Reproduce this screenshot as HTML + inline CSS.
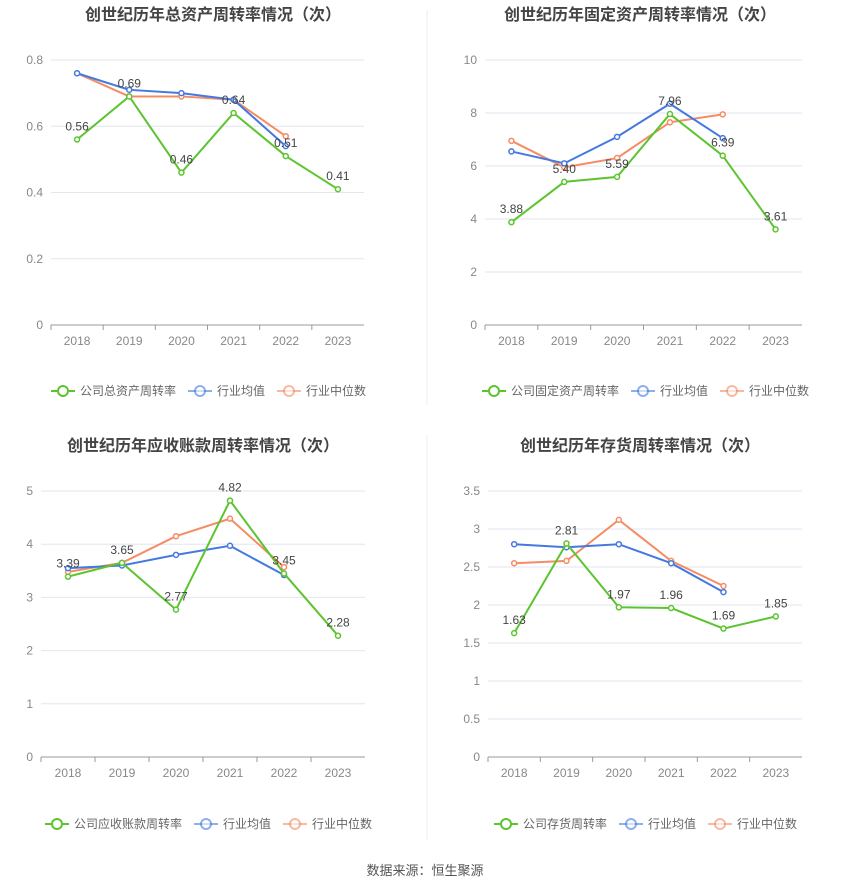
<!DOCTYPE html>
<html><head><meta charset="utf-8">
<style>
body{margin:0;background:#fff;width:850px;height:891px;overflow:hidden;font-family:"Liberation Sans","Noto Sans CJK SC",sans-serif;}
svg text{font-family:"Liberation Sans","Noto Sans CJK SC",sans-serif;}
</style></head>
<body>
<svg id="root" width="850" height="891">
<line x1="427" y1="10" x2="427" y2="405" stroke="#eee"/>
<line x1="427" y1="435" x2="427" y2="840" stroke="#eee"/>
<text x="425" y="875" text-anchor="middle" font-size="13" fill="#555">数据来源：恒生聚源</text>
</svg>
<script>
const years = ["2018","2019","2020","2021","2022","2023"];
const c1Company = [0.56,0.69,0.46,0.64,0.51,0.41];
const c1Avg = [0.76,0.71,0.70,0.68,0.54];
const c1Median = [0.76,0.69,0.69,0.68,0.57];
const c1Ticks = [0,0.2,0.4,0.6,0.8];
const c2Company = [3.88,5.40,5.59,7.96,6.39,3.61];
const c2Avg = [6.55,6.10,7.10,8.35,7.05];
const c2Median = [6.95,5.95,6.30,7.65,7.95];
const c2Ticks = [0,2,4,6,8,10];
const c3Company = [3.39,3.65,2.77,4.82,3.45,2.28];
const c3Avg = [3.55,3.60,3.80,3.97,3.42];
const c3Median = [3.48,3.65,4.15,4.48,3.57];
const c3Ticks = [0,1,2,3,4,5];
const c4Company = [1.63,2.81,1.97,1.96,1.69,1.85];
const c4Avg = [2.80,2.76,2.80,2.55,2.17];
const c4Median = [2.55,2.58,3.12,2.58,2.25];
const c4Ticks = [0,0.5,1,1.5,2,2.5,3,3.5];

const NS="http://www.w3.org/2000/svg";
const root=document.getElementById('root');
const G="#5cc42e",B="#4479e0",O="#f58c63";
function mk(tag,attrs,parent){const e=document.createElementNS(NS,tag);for(const k in attrs)e.setAttribute(k,attrs[k]);(parent||root).appendChild(e);return e;}

function chart(cfg){
  const {title,tx,ty,x0,x1,y0,y1,ticks,company,avg,median,legendName,ly,lx,fmt}=cfg;
  const max=ticks[ticks.length-1];
  const band=(x1-x0)/years.length;
  const X=i=>x0+band*(i+0.5);
  const Y=v=>y0-(v/max)*(y0-y1);
  const g=mk('g',{});
  
  
  const t=mk('text',{x:tx,y:ty,'text-anchor':'middle','font-size':16,'font-weight':'bold',fill:'#444'},g);
  t.textContent=title;
  
  
  ticks.forEach(v=>{
    const l=mk('line',{x1:x0,x2:x1,y1:Y(v),y2:Y(v),stroke:v===0?'#999':'#e3e6ef'},g);
    
    
    const tt=mk('text',{x:x0-8,y:Y(v)+4,'text-anchor':'end','font-size':12,fill:'#888'},g);
    tt.textContent=fmt?fmt(v):String(v);
    
    
  });
  years.forEach((yr,i)=>{
    const tk=mk('line',{x1:x0+band*i,x2:x0+band*i,y1:y0,y2:y0+5,stroke:'#999'},g);
    
    
    const tt=mk('text',{x:X(i),y:y0+20,'text-anchor':'middle','font-size':12,fill:'#888'},g);
    tt.textContent=yr;
    
    
  });
  function series(vals,color,name,labels){
    const pts=vals.map((v,i)=>X(i)+','+Y(v)).join(' ');
    const pl=mk('polyline',{points:pts,fill:'none',stroke:color,'stroke-width':2},g);
    
    
    vals.forEach((v,i)=>{
      const c=mk('circle',{cx:X(i),cy:Y(v),r:2.5,fill:'#fff',stroke:color,'stroke-width':1.5},g);
      
      
      if(labels){
        const lt=mk('text',{x:X(i),y:Y(v)-9,'text-anchor':'middle','font-size':12,fill:'#444'},g);
        lt.textContent=v.toFixed(2);
        
        
      }
    });
  }
  series(median,O,'industry-median',false);
  series(avg,B,'industry-average',false);
  series(company,G,'company',true);
  const items=[[legendName,G,'legend-company'],['行业均值',B,'legend-average'],['行业中位数',O,'legend-median']];
  let x=lx;
  items.forEach(([txt,col,nm])=>{
    const lg=mk('g',{},g);
    
    
    mk('line',{x1:x,x2:x+24,y1:ly,y2:ly,stroke:col,'stroke-width':2,opacity:col===G?1:0.6},lg);
    mk('circle',{cx:x+12,cy:ly,r:5,fill:'#fff',stroke:col,'stroke-width':2,opacity:col===G?1:0.6},lg);
    const tt=mk('text',{x:x+29,y:ly+4,'font-size':12,fill:'#666'},lg);
    tt.textContent=txt;
    x+=29+txt.length*12+12;
  });
}
chart({name:'total-asset-turnover-chart',title:'创世纪历年总资产周转率情况（次）',tx:213,ty:20,x0:51,x1:364,y0:325,y1:60,ticks:c1Ticks,company:c1Company,avg:c1Avg,median:c1Median,legendName:'公司总资产周转率',ly:391,lx:51});
chart({name:'fixed-asset-turnover-chart',title:'创世纪历年固定资产周转率情况（次）',tx:640,ty:20,x0:485,x1:802,y0:325,y1:60,ticks:c2Ticks,company:c2Company,avg:c2Avg,median:c2Median,legendName:'公司固定资产周转率',ly:391,lx:482});
chart({name:'receivables-turnover-chart',title:'创世纪历年应收账款周转率情况（次）',tx:203,ty:451,x0:41,x1:365,y0:757,y1:491,ticks:c3Ticks,company:c3Company,avg:c3Avg,median:c3Median,legendName:'公司应收账款周转率',ly:824,lx:45});
chart({name:'inventory-turnover-chart',title:'创世纪历年存货周转率情况（次）',tx:640,ty:451,x0:488,x1:802,y0:757,y1:491,ticks:c4Ticks,company:c4Company,avg:c4Avg,median:c4Median,legendName:'公司存货周转率',ly:824,lx:494});
</script>
</body></html>
